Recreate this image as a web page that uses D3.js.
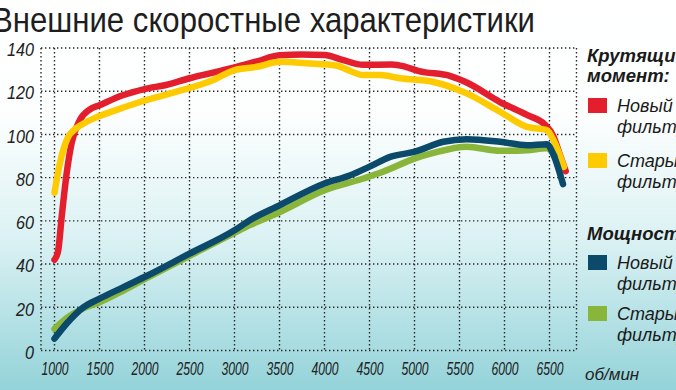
<!DOCTYPE html>
<html>
<head>
<meta charset="utf-8">
<script src="https://cdn.jsdelivr.net/npm/d3@7"></script>
<style>
  body { margin: 0; }
  svg { display: block; font-family: "Liberation Sans", Arial, sans-serif; }
</style>
</head>
<body>
<div id="chart"></div>
<script>
var W = 676, H = 390;

// torque, new filter
var rpmTorqueNew = [1000, 1040, 1080, 1135, 1190, 1280, 1390, 1500, 1750, 2000, 2250, 2500, 2750, 3000, 3250, 3500, 3750, 4000, 4200, 4430, 4750, 4900, 5050, 5400, 5580, 5950, 6250, 6450, 6540, 6620, 6680];
var torqueNew    = [42, 46, 62, 82, 96, 106.5, 111.5, 113.5, 118, 121, 123, 126, 128.5, 131, 133.8, 136.6, 137, 136.8, 134.5, 132.2, 132.4, 131.3, 129.3, 127, 124, 115, 109, 104.5, 99.5, 90, 83];

// torque, old filter
var rpmTorqueOld = [1000, 1060, 1150, 1230, 1300, 1470, 1700, 1950, 2250, 2500, 2750, 3000, 3250, 3500, 3800, 4140, 4250, 4430, 4620, 4840, 5200, 5580, 5950, 6250, 6470, 6560, 6660];
var torqueOld    = [73, 86.7, 98.7, 102.5, 104.5, 108, 111.5, 115, 118.5, 121.5, 125, 129.8, 131.3, 133.6, 132.9, 131.8, 130, 127.5, 127.5, 126, 124.4, 119, 110.5, 103.5, 102, 96, 85];

// power, new filter
var rpmPowerNew = [1000, 1135, 1320, 1500, 1750, 2000, 2500, 3000, 3170, 3500, 4000, 4280, 4495, 4730, 5005, 5320, 5580, 5950, 6250, 6470, 6540, 6650];
var powerNew    = [5.5, 12.5, 20, 24, 29, 34, 44.8, 55.6, 60.3, 67.2, 77.3, 81, 85, 89.6, 92, 96.6, 97.8, 96.6, 95, 95.5, 91, 77];

// power, old filter
var rpmPowerOld = [1000, 1135, 1320, 1500, 1730, 2000, 2500, 3000, 3170, 3500, 4000, 4430, 4650, 5005, 5200, 5580, 5950, 6250, 6470, 6560];
var powerOld    = [10, 15, 19.5, 22.3, 27, 33, 43.8, 54.5, 58, 64, 74.2, 79.6, 82.7, 88.9, 91.3, 94.3, 92.4, 92.7, 93.6, 90];

var xTicks = [1000, 1500, 2000, 2500, 3000, 3500, 4000, 4500, 5000, 5500, 6000, 6500];
var yTicks = [0, 20, 40, 60, 80, 100, 120, 140];

var title = "Внешние скоростные характеристики";
var unitLabel = "об/мин";
var legendGroups = [
  { head: ["Крутящий", "момент:"], items: [
      { label: ["Новый", "фильтр"], color: "#e31e2d" },
      { label: ["Старый", "фильтр"], color: "#fecb00" } ] },
  { head: ["Мощность:"], items: [
      { label: ["Новый", "фильтр"], color: "#0b4a6a" },
      { label: ["Старый", "фильтр"], color: "#8ab53b" } ] }
];

var svg = d3.select("#chart").append("svg")
    .attr("width", W)
    .attr("height", H);

// background gradient
var grad = svg.append("defs").append("linearGradient")
    .attr("id", "bg")
    .attr("x1", 0).attr("y1", 0).attr("x2", 0).attr("y2", 1);
grad.append("stop").attr("offset", "0%").attr("stop-color", "#ffffff");
grad.append("stop").attr("offset", "30%").attr("stop-color", "#fcfefe");
grad.append("stop").attr("offset", "62%").attr("stop-color", "#daf1f3");
grad.append("stop").attr("offset", "100%").attr("stop-color", "#93d3d9");
svg.append("rect").attr("width", W).attr("height", H).attr("fill", "url(#bg)");

var x = d3.scaleLinear().domain([850, 6800]).range([41, 576.5]);
var y = d3.scaleLinear().domain([0, 140]).range([350.5, 48]);

// dotted grid
var grid = svg.append("g")
    .attr("stroke", "#2a2a2a")
    .attr("stroke-width", 1.4)
    .attr("stroke-dasharray", "1.4,2.6")
    .attr("fill", "none");

grid.selectAll("line.h")
    .data(yTicks)
    .enter()
    .append("line")
    .attr("class", "h")
    .attr("x1", x(850)).attr("x2", x(6800))
    .attr("y1", function (d) { return y(d) })
    .attr("y2", function (d) { return y(d) });

grid.selectAll("line.v")
    .data([850].concat(xTicks).concat([6800]))
    .enter()
    .append("line")
    .attr("class", "v")
    .attr("x1", function (d) { return x(d) })
    .attr("x2", function (d) { return x(d) })
    .attr("y1", y(140)).attr("y2", y(0));

// axes labels
var yAxis = svg.append("g")
    .attr("transform", "translate(" + (x(850) + 1) + ",0)")
    .call(d3.axisLeft(y).tickValues(yTicks).tickSize(0).tickPadding(8));
yAxis.select(".domain").remove();
yAxis.selectAll("text")
    .attr("dy", "0.42em")
    .style("font-size", "18.5px")
    .style("font-style", "italic")
    .style("fill", "#222")
    .attr("textLength", function (d) { return String(d).length * 9 })
    .attr("lengthAdjust", "spacingAndGlyphs");

var xAxis = svg.append("g")
    .attr("transform", "translate(0," + y(0) + ")")
    .call(d3.axisBottom(x).tickValues(xTicks).tickSize(0).tickPadding(12).tickFormat(d3.format("d")));
xAxis.select(".domain").remove();
xAxis.selectAll("text")
    .style("font-size", "18px")
    .style("font-style", "italic")
    .style("fill", "#222")
    .attr("textLength", 27)
    .attr("lengthAdjust", "spacingAndGlyphs");

svg.append("text")
    .attr("x", 585)
    .attr("y", 380)
    .text(unitLabel)
    .style("font-size", "17px")
    .style("font-style", "italic")
    .style("fill", "#222");

// curves
var line = d3.line()
    .x(function (d) { return x(d[0]) })
    .y(function (d) { return y(d[1]) })
    .curve(d3.curveMonotoneX);

var series = [
  { rpm: rpmTorqueNew, val: torqueNew, color: legendGroups[0].items[0].color },
  { rpm: rpmTorqueOld, val: torqueOld, color: legendGroups[0].items[1].color },
  { rpm: rpmPowerOld, val: powerOld, color: legendGroups[1].items[1].color },
  { rpm: rpmPowerNew, val: powerNew, color: legendGroups[1].items[0].color }
];

svg.append("g").selectAll("path")
    .data(series)
    .enter()
    .append("path")
    .attr("d", function (s) { return line(d3.zip(s.rpm, s.val)) })
    .attr("fill", "none")
    .attr("stroke", function (s) { return s.color })
    .attr("stroke-width", 6.5)
    .attr("stroke-linejoin", "round")
    .attr("stroke-linecap", "round");

// title
svg.append("text")
    .attr("x", -8)
    .attr("y", 32)
    .text(title)
    .style("font-size", "35px")
    .style("fill", "#1e1e1e")
    .attr("textLength", 543)
    .attr("lengthAdjust", "spacingAndGlyphs");

// legend
var lx = 587;
var headY = [62, 240];
var itemY = [[98, 153], [255, 306]];
legendGroups.forEach(function (g, gi) {
  g.head.forEach(function (t, i) {
    svg.append("text")
      .attr("x", lx)
      .attr("y", headY[gi] + i * 20)
      .text(t)
      .style("font-size", "18.5px")
      .style("font-weight", "bold")
      .style("font-style", "italic")
      .style("fill", "#1a1a1a");
  });
  g.items.forEach(function (it, i) {
    var top = itemY[gi][i];
    svg.append("rect")
      .attr("x", lx + 1).attr("y", top)
      .attr("width", 19).attr("height", 15)
      .attr("fill", it.color);
    it.label.forEach(function (t, j) {
      svg.append("text")
        .attr("x", lx + 30)
        .attr("y", top + 14 + j * 21)
        .text(t)
        .style("font-size", "18px")
        .style("font-style", "italic")
        .style("fill", "#1a1a1a");
    });
  });
});
</script>
</body>
</html>
